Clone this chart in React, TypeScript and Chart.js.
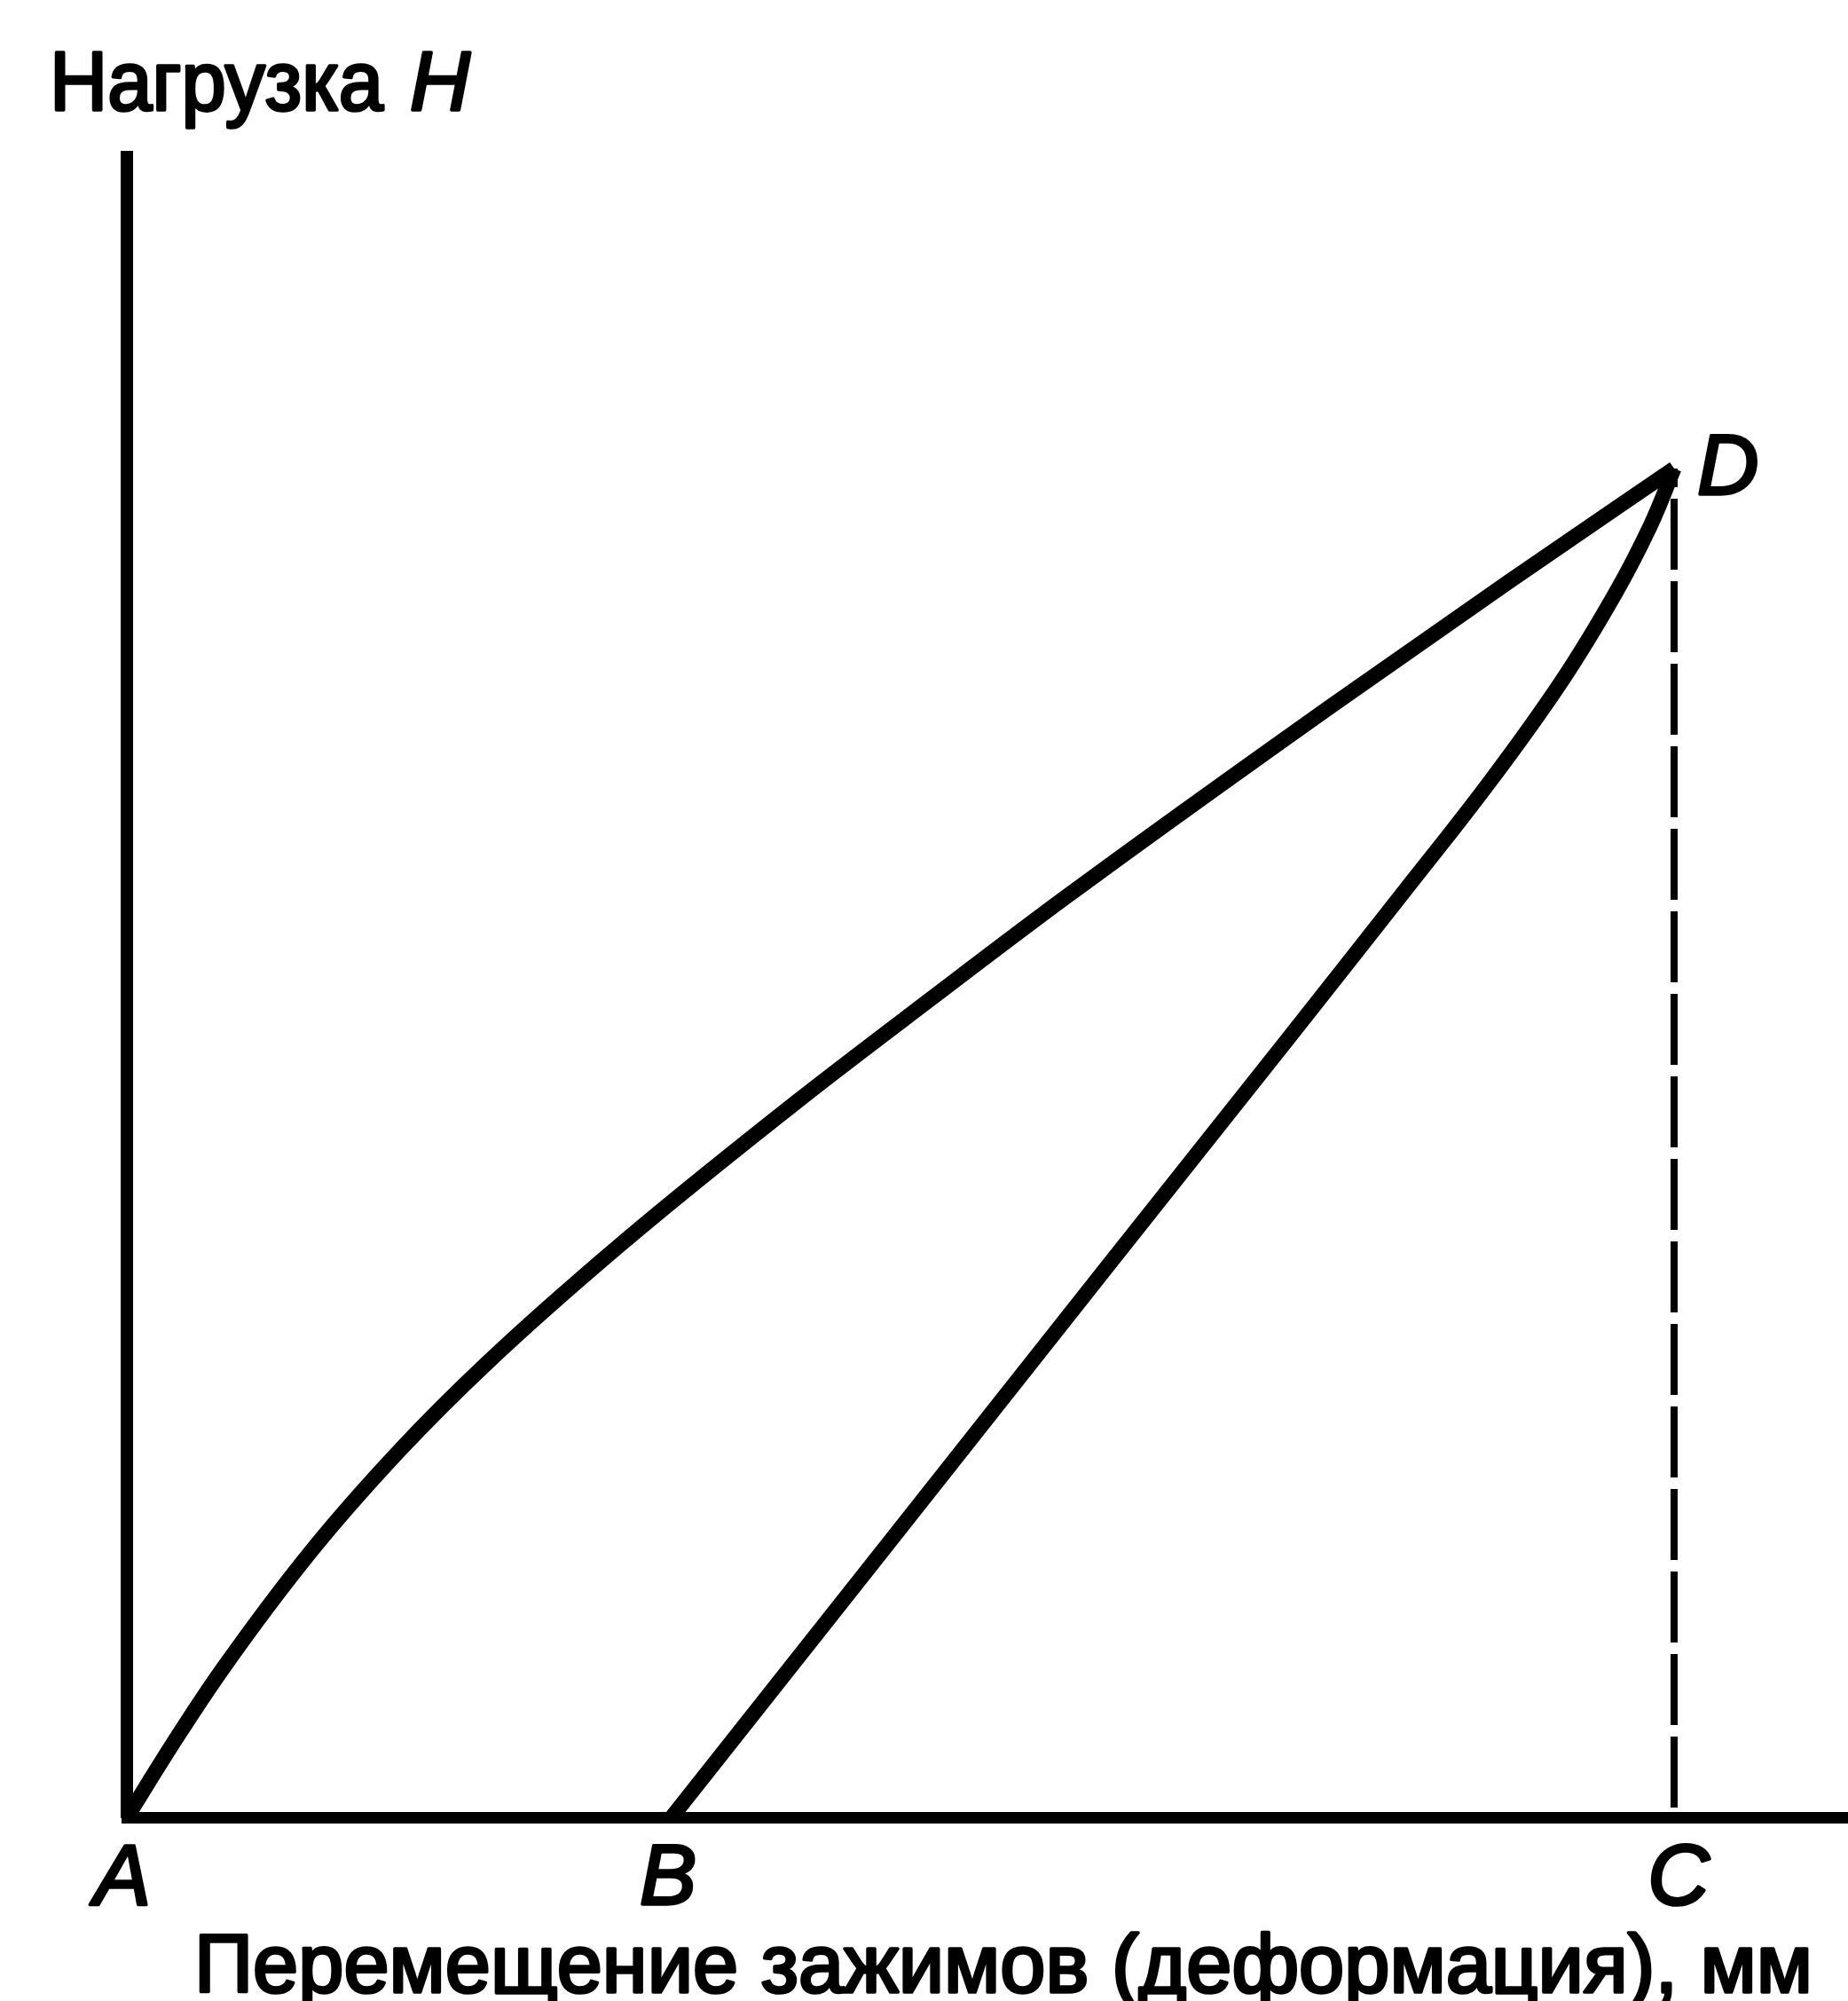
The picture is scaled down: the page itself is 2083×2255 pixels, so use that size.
import React, { useEffect, useRef } from "react";
import { Chart, registerables } from "chart.js";

Chart.register(...registerables);

// Loading curve A -> D
const loadX = [0, 0.327, 0.614, 1.187, 1.76, 2.334, 3.194, 4.341, 5.201, 6.061, 7.781, 8.928, 10];
const loadY = [0, 0.599, 1.092, 1.967, 2.717, 3.375, 4.25, 5.316, 6.072, 6.816, 8.237, 9.158, 10];
// Unloading curve B -> D
const unloadX = [3.521, 4.914, 6.347, 7.494, 8.24, 8.813, 9.272, 9.616, 9.845, 10];
const unloadY = [0, 2.02, 4.099, 5.757, 6.842, 7.684, 8.421, 9.066, 9.572, 10];
// Vertical drop D -> C
const dropX = [10, 10];
const dropY = [10, 0];
// Named points
const pointNames = ["A", "B", "C", "D"];
const pointX = [0, 3.521, 10, 10];
const pointY = [0, 0, 0, 10];
// Axis texts
const yTitle = "Нагрузка";
const yTitleVar = "H";
const xTitle = "Перемещение зажимов (деформация), мм";

const X_MAX = 11.124;
const Y_MAX = 12.309;

const toXY = (xs: number[], ys: number[]) => xs.map((v, i) => ({ x: v, y: ys[i] }));

const FONT = '"Liberation Sans", Arial, Helvetica, sans-serif';

// label placement styles: [dx, dy, align]
const labelStyle: Array<[number, number, CanvasTextAlign]> = [
  [-5, 98, "center"],
  [-4, 98, "center"],
  [5, 98, "center"],
  [26, 29, "left"],
];

function drawText(ctx: CanvasRenderingContext2D, t: string, x: number, y: number, maxW?: number) {
  ctx.lineWidth = 3.5;
  ctx.lineJoin = "round";
  if (maxW !== undefined) {
    ctx.strokeText(t, x, y, maxW);
    ctx.fillText(t, x, y, maxW);
  } else {
    ctx.strokeText(t, x, y);
    ctx.fillText(t, x, y);
  }
}

const textPlugin = {
  id: "textPlugin",
  afterDraw(chart: any) {
    const { ctx } = chart;
    const xs = chart.scales.x;
    const ys = chart.scales.y;
    ctx.save();
    ctx.fillStyle = "#000";
    ctx.strokeStyle = "#000";
    ctx.textBaseline = "alphabetic";
    // Y title
    ctx.textAlign = "left";
    ctx.font = `94px ${FONT}`;
    drawText(ctx, yTitle, xs.left - 87, ys.top - 53, 376);
    ctx.font = `italic 94px ${FONT}`;
    drawText(ctx, yTitleVar, xs.left + 319, ys.top - 53);
    // Point labels
    ctx.font = `italic 96px ${FONT}`;
    pointNames.forEach((name, i) => {
      const px = xs.getPixelForValue(pointX[i]);
      const py = ys.getPixelForValue(pointY[i]);
      const [dx, dy, align] = labelStyle[i];
      ctx.textAlign = align;
      drawText(ctx, name, px + dx, py + dy);
    });
    // X title
    ctx.textAlign = "left";
    ctx.font = `93px ${FONT}`;
    drawText(ctx, xTitle, xs.left + 76, ys.bottom + 197, 1824);
    ctx.restore();
  },
};

export default function App() {
  const ref = useRef<HTMLCanvasElement | null>(null);
  useEffect(() => {
    document.body.style.margin = "0";
    document.body.style.overflow = "hidden";
    const canvas = ref.current;
    if (!canvas) return;
    const chart = new Chart(canvas, {
      type: "line",
      data: {
        datasets: [
          {
            data: toXY(loadX, loadY),
            borderColor: "#000",
            borderWidth: 17,
            cubicInterpolationMode: "monotone",
            pointRadius: 0,
            fill: false,
            borderJoinStyle: "round",
          },
          {
            data: toXY(unloadX, unloadY),
            borderColor: "#000",
            borderWidth: 17,
            tension: 0.4,
            pointRadius: 0,
            fill: false,
            borderJoinStyle: "round",
          },
          {
            data: toXY(dropX, dropY),
            borderColor: "#000",
            borderWidth: 8,
            borderDash: [80, 13],
            borderDashOffset: 59,
            pointRadius: 0,
            fill: false,
          },
        ],
      },
      options: {
        responsive: false,
        animation: false,
        devicePixelRatio: 1,
        layout: { padding: { left: 143, top: 177, right: 0, bottom: 207 } },
        plugins: {
          legend: { display: false },
          tooltip: { enabled: false },
          title: { display: false },
        },
        scales: {
          x: {
            type: "linear",
            min: 0,
            max: X_MAX,
            grid: { display: false, drawTicks: false },
            ticks: { display: false },
            border: { display: true, color: "#000", width: 13 },
            afterFit: (s: any) => {
              s.height = 0;
            },
          },
          y: {
            type: "linear",
            min: 0,
            max: Y_MAX,
            grid: { display: false, drawTicks: false },
            ticks: { display: false },
            border: { display: true, color: "#000", width: 14 },
            afterFit: (s: any) => {
              s.width = 0;
            },
          },
        },
      } as any,
      plugins: [textPlugin],
    });
    return () => chart.destroy();
  }, []);
  return (
    <div style={{ width: 2083, height: 2255, background: "#fff", overflow: "hidden" }}>
      <canvas ref={ref} width={2083} height={2255} style={{ display: "block" }} />
    </div>
  );
}
